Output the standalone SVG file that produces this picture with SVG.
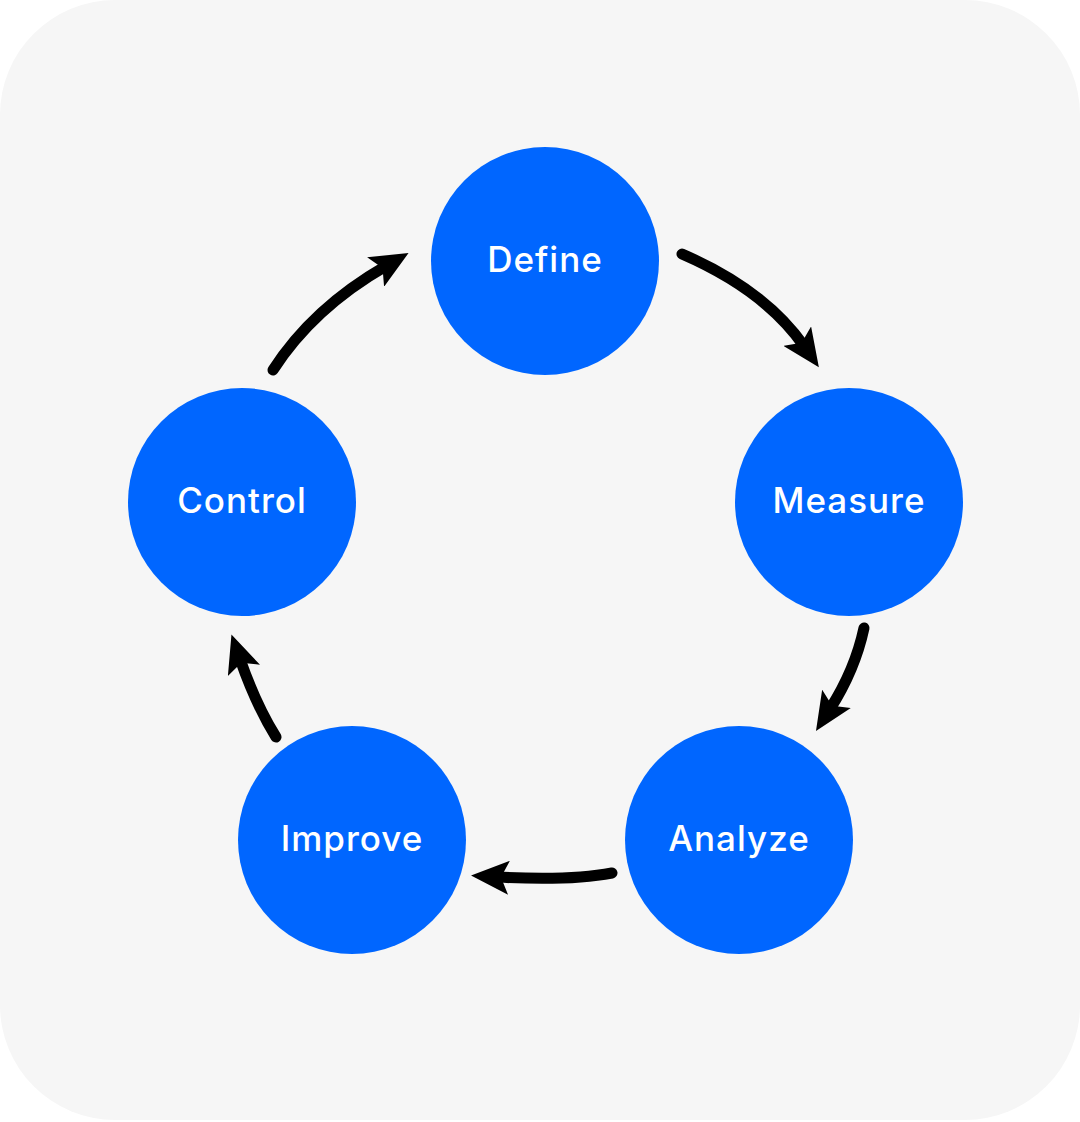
<svg xmlns="http://www.w3.org/2000/svg" width="1080" height="1122" viewBox="0 0 1080 1122">
<style>
.node circle{fill:#0066ff}
.node text{fill:#ffffff;font-family:Inter,"Open Sans","Liberation Sans",sans-serif;font-size:35px;font-weight:500;text-anchor:middle;dominant-baseline:central;letter-spacing:1px}
.conn path{fill:none;stroke:#000;stroke-width:11;stroke-linecap:round;marker-end:url(#ah)}
</style>
<defs>
<marker id="ah" viewBox="0 0 38 34" markerUnits="userSpaceOnUse" markerWidth="38" markerHeight="34" refX="12" refY="17" orient="auto">
<path d="M0,0 L38,17 L0,34 L8,17 z" fill="#000"/>
</marker>
</defs>
<rect x="0" y="0" width="1080" height="1122" fill="#ffffff"/>
<rect x="0" y="0" width="1080" height="1120" rx="115" ry="115" fill="#f6f6f6"/>
<g class="conn">
<path d="M682,254 Q765,290 804,346"/>
<path d="M864,628 Q855,670 830,709"/>
<path d="M612,873 Q570,881 497,877"/>
<path d="M276,737 Q256,705 240,659"/>
<path d="M273,370 Q313,308 386,266"/>
</g>
<g id="define" class="node"><circle cx="545" cy="261" r="114"/><text x="545" y="259">Define</text></g>
<g id="measure" class="node"><circle cx="849" cy="502" r="114"/><text x="849" y="500">Measure</text></g>
<g id="analyze" class="node"><circle cx="739" cy="840" r="114"/><text x="739" y="838">Analyze</text></g>
<g id="improve" class="node"><circle cx="352" cy="840" r="114"/><text x="352" y="838">Improve</text></g>
<g id="control" class="node"><circle cx="242" cy="502" r="114"/><text x="242" y="500">Control</text></g>
</svg>
